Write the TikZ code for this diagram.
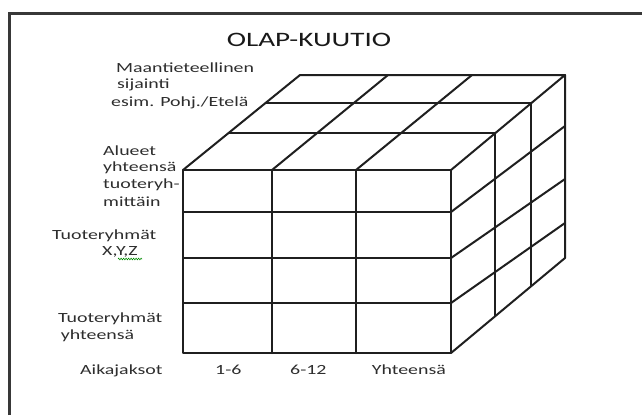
\documentclass[tikz,border=0pt]{standalone}
\usepackage{fontspec}
\newfontfamily\lab{Carlito}[FakeStretch=1.42]
\usetikzlibrary{decorations.pathmorphing}
\begin{document}
\begin{tikzpicture}[x=1bp,y=-1bp,
  cube/.style={line width=2bp, black!88, line join=round, line cap=round},
  frame/.style={line width=3bp, black!78},
  txt/.style={font=\lab\fontsize{14bp}{17bp}\selectfont, text=black!82, inner sep=0pt, anchor=base west},
  ttl/.style={font=\lab\fontsize{20.5bp}{24bp}\selectfont, text=black!90, inner sep=0pt}]
\useasboundingbox (0,0) rectangle (642,415);
\fill[white] (0,0) rectangle (642,415);
% frame (right and bottom edges lie outside the picture)
\draw[frame] (9,415) -- (9,13) -- (642,13);

% corners of the cube
\coordinate (FTL) at (183,170);
\coordinate (FTR) at (451,170);
\coordinate (FBL) at (183,353);
\coordinate (FBR) at (451,353);
\coordinate (BTL) at (300,75);
\coordinate (BTR) at (565,75);
\coordinate (BBR) at (565,258);

% front face
\draw[cube] (FTL) rectangle (FBR);
\draw[cube] (272,170) -- (272,353);
\draw[cube] (356,170) -- (356,353);
\draw[cube] (183,212) -- (451,212);
\draw[cube] (183,258) -- (451,258);
\draw[cube] (183,303) -- (451,303);

% top face
\draw[cube] (FTL) -- (BTL) -- (BTR) -- (FTR);
\draw[cube] (272,170) -- (388,75);
\draw[cube] (356,170) -- (472,75);
\draw[cube] (228.6,133) -- (495.4,133);
\draw[cube] (265.5,103) -- (531.4,103);

% right face
\draw[cube] (FBR) -- (BBR) -- (BTR);
\draw[cube] (495.4,133) -- (495.4,316);
\draw[cube] (531.4,103) -- (531.4,286);
\draw[cube] (451,212) -- (565,126);
\draw[cube] (451,258) -- (565,179);
\draw[cube] (451,303) -- (565,223);

% title
\node[ttl] (title) at (309,40) {OLAP-KUUTIO};

% labels
\node[txt] (m1) at (116,72.5) {Maantieteellinen};
\node[txt] (m2) at (117,88) {sijainti};
\node[txt] (m3) at (111,106) {esim. Pohj./Etelä};
\node[txt] (a1) at (103,155.5) {Alueet};
\node[txt] (a2) at (103,171) {yhteensä};
\node[txt] (a3) at (103,188.5) {tuoteryh-};
\node[txt] (a4) at (103,206.5) {mittäin};
\node[txt] (t1) at (52,239) {Tuoteryhmät};
\node[txt] (t2) at (102,255.5) {X,Y,Z};
\node[txt] (y1) at (58,322) {Tuoteryhmät};
\node[txt] (y2) at (60.7,339) {yhteensä};
\node[txt] (ak) at (80,374.5) {Aikajaksot};
\node[txt] (c1) at (215,374) {1-6};
\node[txt] (c2) at (290,374) {6-12};
\node[txt] (c3) at (371.7,374) {Yhteensä};

% spell-check underline under "Y,Z"
\draw[green!55!black, line width=0.6bp, decorate,
  decoration={zigzag, amplitude=0.8bp, segment length=2.5bp}] (118,259) -- (142,259);
\end{tikzpicture}
\end{document}
